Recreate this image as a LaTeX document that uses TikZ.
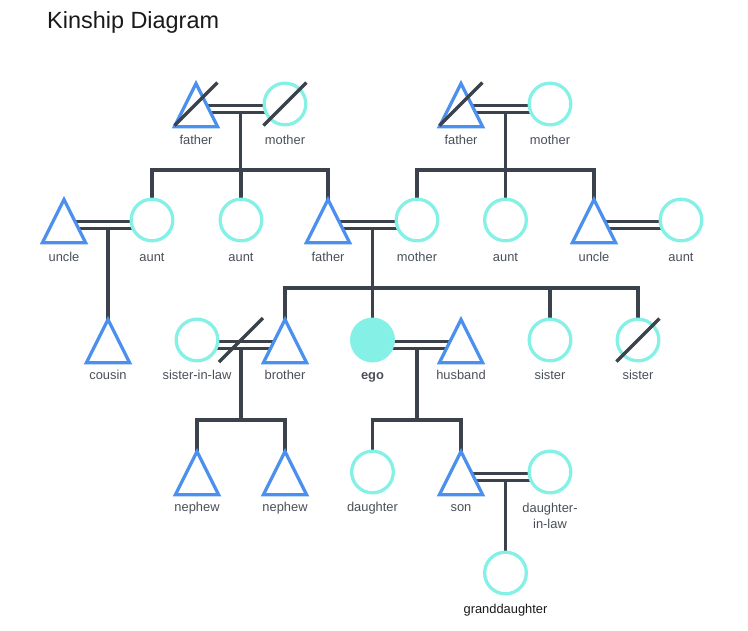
\documentclass[tikz,border=0pt]{standalone}
\usepackage{fontspec}
\setmainfont{Liberation Sans}
\usetikzlibrary{shapes.geometric,backgrounds,calc}

\definecolor{malec}{HTML}{4A90F0}
\definecolor{femc}{HTML}{84F0E6}
\definecolor{edgec}{HTML}{3B424B}
\definecolor{textc}{HTML}{4A4F57}

\begin{document}
\begin{tikzpicture}[x=0.03cm,y=-0.03cm,
  male/.style={draw=malec, line width=2.8pt, fill=white, isosceles triangle, isosceles triangle stretches,
    shape border rotate=90, minimum width=1.3cm, minimum height=1.3cm, inner sep=0pt, outer sep=0pt, anchor=apex},
  female/.style={draw=femc, line width=2.8pt, fill=white, circle, minimum size=1.25cm, inner sep=0pt, outer sep=0pt},
  ego/.style={female, fill=femc},
  lbl/.style={font=\fontsize{11}{13.5}\selectfont, text=textc, inner sep=0pt, anchor=base},
  kin/.style={draw=edgec, line width=3pt},
  wed/.style={draw=edgec, line width=2.8pt, double=white, double distance=3.4pt},
  dead/.style={draw=edgec, line width=3pt}]
  \useasboundingbox (0,0) rectangle (748,630);
  % Title
  \node[anchor=base west, inner sep=0pt, font=\fontsize{20}{24}\selectfont, text=black!90] (title) at (47,28.5) {Kinship Diagram};
  % Grandparents
  \node[male] (ff) at (196,83.5) {};
  \node[female] (fm) at (285,104) {};
  \node[male] (mf) at (461,83.5) {};
  \node[female] (mm) at (550,104) {};
  \node[lbl] (ff-t) at (196,144) {father};
  \node[lbl] (fm-t) at (285,144) {mother};
  \node[lbl] (mf-t) at (461,144) {father};
  \node[lbl] (mm-t) at (550,144) {mother};
  % Parents' generation
  \node[male] (uncleA) at (64,199.5) {};
  \node[female] (auntA) at (152,220) {};
  \node[female] (auntB) at (241,220) {};
  \node[male] (father) at (328,199.5) {};
  \node[female] (mother) at (417,220) {};
  \node[female] (auntC) at (505.5,220) {};
  \node[male] (uncleB) at (594,199.5) {};
  \node[female] (auntD) at (681,220) {};
  \node[lbl] (uncleA-t) at (64,261) {uncle};
  \node[lbl] (auntA-t) at (152,261) {aunt};
  \node[lbl] (auntB-t) at (241,261) {aunt};
  \node[lbl] (father-t) at (328,261) {father};
  \node[lbl] (mother-t) at (417,261) {mother};
  \node[lbl] (auntC-t) at (505.5,261) {aunt};
  \node[lbl] (uncleB-t) at (594,261) {uncle};
  \node[lbl] (auntD-t) at (681,261) {aunt};
  % Ego's generation
  \node[male] (cousin) at (108,319.5) {};
  \node[female] (sil) at (197,340) {};
  \node[male] (brother) at (285,319.5) {};
  \node[ego] (ego) at (372.5,340) {};
  \node[male] (husband) at (461,319.5) {};
  \node[female] (sisA) at (550,340) {};
  \node[female] (sisB) at (638,340) {};
  \node[lbl] (cousin-t) at (108,379) {cousin};
  \node[lbl] (sil-t) at (197,379) {sister-in-law};
  \node[lbl] (brother-t) at (285,379) {brother};
  \node[lbl, font=\fontsize{11}{13.5}\selectfont\bfseries] (ego-t) at (372.5,379) {ego};
  \node[lbl] (husband-t) at (461,379) {husband};
  \node[lbl] (sisA-t) at (550,379) {sister};
  \node[lbl] (sisB-t) at (638,379) {sister};
  % Children
  \node[male] (nephA) at (197,451.5) {};
  \node[male] (nephB) at (285,451.5) {};
  \node[female] (daughter) at (372.5,472) {};
  \node[male] (son) at (461,451.5) {};
  \node[female] (dil) at (550,472) {};
  \node[lbl] (nephA-t) at (197,511.5) {nephew};
  \node[lbl] (nephB-t) at (285,511.5) {nephew};
  \node[lbl] (daughter-t) at (372.5,511.5) {daughter};
  \node[lbl] (son-t) at (461,511.5) {son};
  \node[lbl, align=center] (dil-t) at (550,528) {daughter-\\in-law};
  % Grandchild
  \node[female] (gd) at (505.5,573) {};
  \node[lbl, text=black!90] (gd-t) at (505.5,613) {granddaughter};

  \begin{scope}[on background layer]
    % couple and sibling points
    \coordinate (u1) at (240.5,109);  \coordinate (b1) at (240.5,170);
    \coordinate (u2) at (505.5,109);  \coordinate (b2) at (505.5,170);
    \coordinate (u3) at (108,225);
    \coordinate (u4) at (372.5,225);  \coordinate (b4) at (372.5,288);
    \coordinate (u5) at (241,345);    \coordinate (b5) at (241,420);
    \coordinate (u6) at (416.75,345); \coordinate (b6) at (416.75,420);
    \coordinate (u7) at (505.5,477);
    % Descent
    \draw[kin] (u1) -- (b1);
    \draw[kin] (auntA) |- (b1) -| (father);
    \draw[kin] (auntB) -- (auntB |- b1);
    \draw[kin] (u2) -- (auntC);
    \draw[kin] (mother) |- (b2) -| (uncleB);
    \draw[kin] (u3) -- (cousin);
    \draw[kin] (u4) -- (ego);
    \draw[kin] (brother) |- (b4) -| (sisB);
    \draw[kin] (sisA) -- (sisA |- b4);
    \draw[kin] (u5) -- (b5);
    \draw[kin] (nephA) |- (b5) -| (nephB);
    \draw[kin] (u6) -- (b6);
    \draw[kin] (daughter) |- (b6) -| (son);
    \draw[kin] (u7) -- (gd);
    % Marriages
    \draw[wed] (ff |- u1) -- (fm |- u1);
    \draw[wed] (mf |- u2) -- (mm |- u2);
    \draw[wed] (uncleA |- u3) -- (auntA |- u3);
    \draw[wed] (father |- u4) -- (mother |- u4);
    \draw[wed] (uncleB |- u4) -- (auntD |- u4);
    \draw[wed] (sil |- u5) -- (brother |- u5);
    \draw[wed] (ego |- u6) -- (husband |- u6);
    \draw[wed] (son |- u7) -- (dil |- u7);
  \end{scope}

  % Deceased
  \draw[dead] ($(ff |- fm)+(-21.5,21.5)$) -- ($(ff |- fm)+(21.5,-21.5)$);
  \draw[dead] ($(fm)+(-21.5,21.5)$) -- ($(fm)+(21.5,-21.5)$);
  \draw[dead] ($(mf |- mm)+(-21.5,21.5)$) -- ($(mf |- mm)+(21.5,-21.5)$);
  \draw[dead] ($(sisB)+(-21.5,21.5)$) -- ($(sisB)+(21.5,-21.5)$);
  % Divorce
  \draw[dead] ($(u5 |- sil)+(-22,22)$) -- ($(u5 |- sil)+(22,-22)$);
\end{tikzpicture}
\end{document}
